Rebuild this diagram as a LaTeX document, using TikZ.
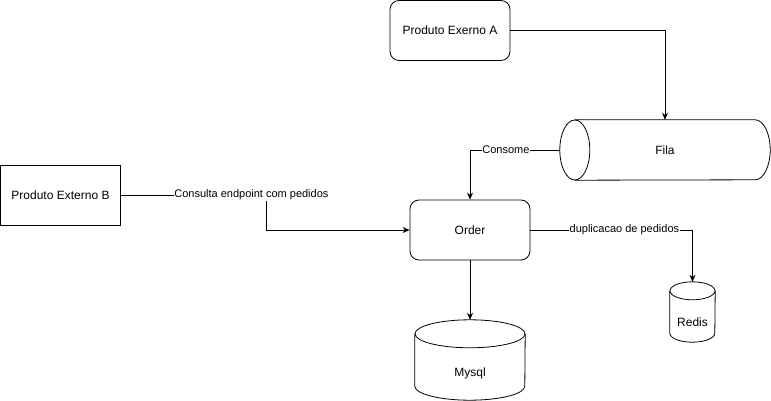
\documentclass[tikz,border=0pt]{standalone}
\usepackage{fontspec}
\setmainfont{Liberation Sans}
\usepackage{tikz}
\usetikzlibrary{arrows.meta,calc}
\tikzstyle{box}=[draw=black,line width=0.8pt,minimum width=120pt,minimum height=60pt,
                inner sep=0pt,font=\fontsize{12}{14}\selectfont]
\tikzstyle{flow}=[->,draw=black,line width=0.8pt]
\tikzstyle{lbl}=[fill=white,inner sep=0.5pt,font=\fontsize{11}{13}\selectfont]
% outline of an upright cylinder round an empty node: name, x radius, y radius
\newcommand{\dbcyl}[3]{%
  \draw[line width=0.8pt] ([yshift=-#3]#1.north west) -- ([yshift=#3]#1.south west)
     arc[start angle=180,end angle=360,x radius=#2,y radius=#3] -- ([yshift=-#3]#1.north east);
  \draw[line width=0.8pt] ([yshift=-#3]#1.north) ellipse[x radius=#2,y radius=#3];}

\begin{document}
\begin{tikzpicture}[x=1pt,y=-1pt,>={Stealth[length=7pt,width=6pt]}]
    \tikzstyle{service}=[box, rounded corners=9pt]
    \tikzstyle{shell}=[inner sep=0pt,font=\fontsize{12}{14}\selectfont]
    \useasboundingbox (0,0) rectangle (771,401);

    % products and the service
    \node[service] (prodA) at (450,30.5) {Produto Exerno A};
    \node[box] (prodB) at (60.5,195) {Produto Externo B};
    \node[service] (order) at (470,230) {Order};

    % the queue, lying down
    \node[shell, minimum width=210pt, minimum height=60pt] (fila) at (665,150) {Fila};
    \draw[line width=0.8pt] ([xshift=15pt]fila.north west) -- ([xshift=-15pt]fila.north east)
        arc[start angle=90,end angle=-90,x radius=15pt,y radius=30pt] -- ([xshift=15pt]fila.south west);
    \draw[line width=0.8pt] ([xshift=15pt]fila.west) ellipse[x radius=15pt,y radius=30pt];

    % the stores
    \node[shell, minimum width=110pt, minimum height=80pt] (mysql) at (470,360) {};
    \dbcyl{mysql}{55pt}{14pt}
    \node[shell] (mysqlText) at ([yshift=-13pt]mysql.center) {Mysql};

    \node[shell, minimum width=45pt, minimum height=60pt] (redis) at (692.5,312) {};
    \dbcyl{redis}{22.5pt}{9pt}
    \node[shell] (redisText) at ([yshift=-10pt]redis.center) {Redis};

    % connect the nodes
    \draw[flow] (prodA.east) -| (fila.north);
    \draw[flow] (fila.west) -| node[lbl, pos=0.3] {Consome} (order.north);
    \draw[flow] (prodB.east) -- ++(145,0) node[lbl, pos=0.9] {Consulta endpoint com pedidos} |- (order.west);
    \draw[flow] (order.south) -- (mysql.north);
    \draw[flow] (order.east) -| node[lbl, pos=0.29] {duplicacao de pedidos} (redis.north);
\end{tikzpicture}
\end{document}
